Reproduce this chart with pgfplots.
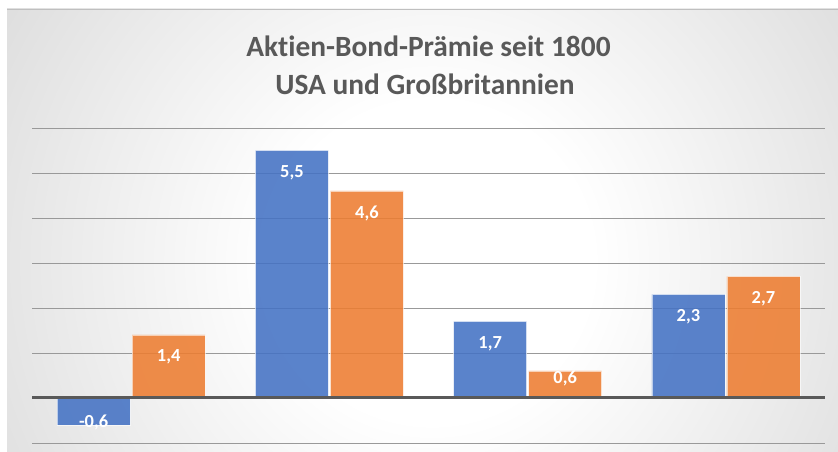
\documentclass[border=0pt]{standalone}
\usepackage{pgfplots}
\pgfplotsset{compat=1.18}
\usepackage{fontspec}
\setmainfont{Carlito}[Ligatures={NoCommon}]
\definecolor{bblue}{HTML}{4472C4}
\definecolor{borange}{HTML}{ED7D31}
\definecolor{titlegray}{HTML}{595959}
\pgfdeclareradialshading{bgshade}{\pgfpoint{0bp}{0bp}}{color(0bp)=(white); color(8bp)=(white); color(50bp)=(black!32)}
\begin{document}
\begin{tikzpicture}[x=1bp,y=1bp]
\path[use as bounding box] (0,0) rectangle (838,452);
\begin{scope}
\clip (7,0) rectangle (838,443);
\shade[shading=bgshade] (432,190) circle (500);
\end{scope}
\draw[black!25, line width=0.8bp] (7,443) -- (838,443);
\node[anchor=base, text=titlegray, font=\bfseries\fontsize{29.5}{30}\selectfont] at (428.5,395) {Aktien-Bond-Prämie seit 1800};
\node[anchor=base, text=titlegray, font=\bfseries\fontsize{29.5}{30}\selectfont] at (425,357) {USA und Großbritannien};
\begin{axis}[
  at={(32bp,9bp)}, anchor=south west,
  scale only axis, width=793bp, height=315bp,
  xmin=-0.5, xmax=3.5, ymin=-1, ymax=6,
  ybar=2bp, bar width=73bp,
  xtick=\empty, ytick={-1,0,...,6}, yticklabels={},
  axis line style={draw=none}, tick style={draw=none},
  ymajorgrids, grid style={draw=black!40, line width=0.8bp},
  clip=false,
  /pgf/number format/.cd, use comma, fixed, fixed zerofill, precision=1, assume math mode=true,
  /pgfplots/.cd,
  visualization depends on={ifthenelse(rawy>1,-22,ifthenelse(rawy>0,-7,3)) \as \myshift},
  nodes near coords,
  every node near coord/.append style={anchor=center, yshift=\myshift bp, text=white, font=\bfseries\fontsize{18.5}{20}\selectfont},
]
\addplot[fill=bblue, fill opacity=0.88, draw=white, draw opacity=0.6, line width=0.6bp, text opacity=1] coordinates {(0,-0.6) (1,5.5) (2,1.7) (3,2.3)};
\addplot[fill=borange, fill opacity=0.88, draw=white, draw opacity=0.6, line width=0.6bp, text opacity=1] coordinates {(0,1.4) (1,4.6) (2,0.6) (3,2.7)};
\draw[draw=black!65, line width=3bp] (axis cs:-0.5,0) -- (axis cs:3.5,0);
\end{axis}
\end{tikzpicture}
\end{document}
